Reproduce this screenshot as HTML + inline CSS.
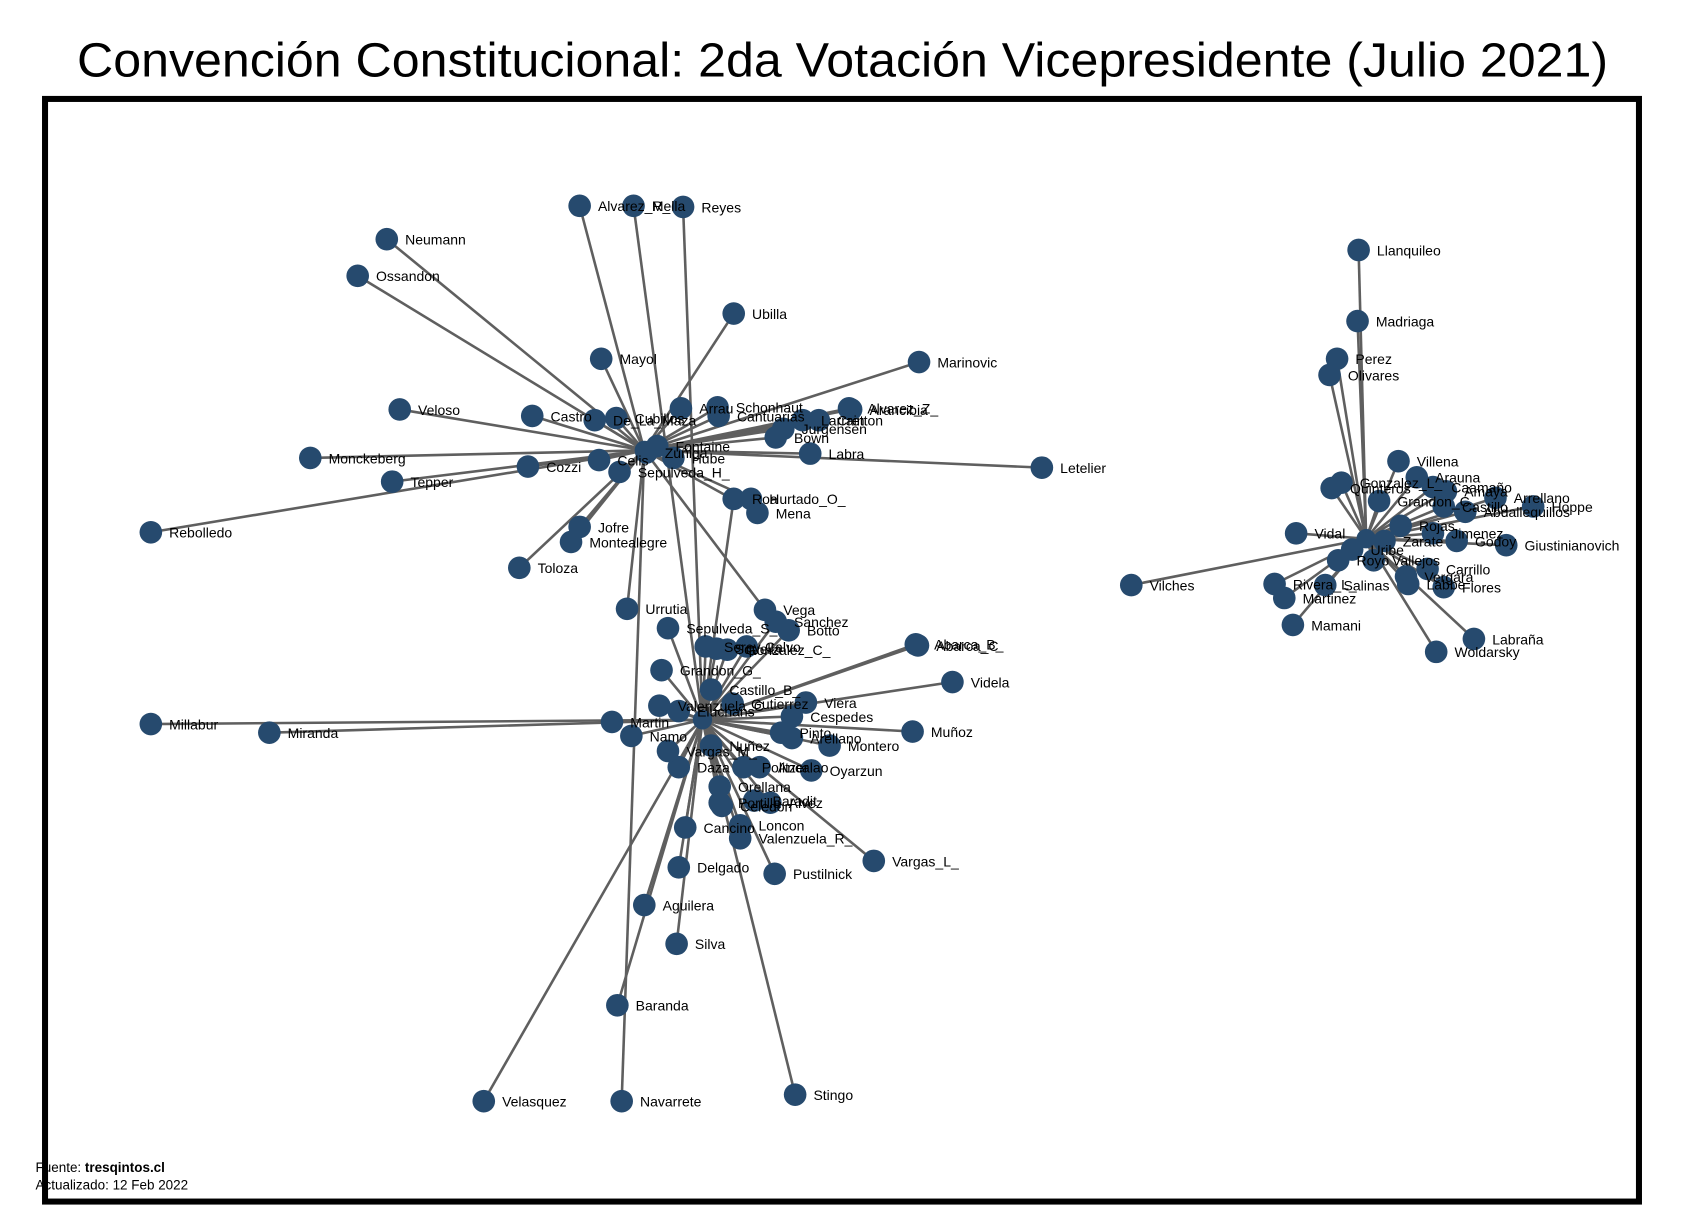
<!DOCTYPE html>
<html><head><meta charset="utf-8"><style>
html,body{margin:0;padding:0;background:#fff;}
svg{display:block;font-family:"Liberation Sans",sans-serif;}
</style></head><body>
<svg id="chart" width="1684" height="1224" viewBox="0 0 1563 1136" xmlns="http://www.w3.org/2000/svg">
<text x="782" y="71" font-size="44.5" text-anchor="middle" textLength="1421" lengthAdjust="spacingAndGlyphs">Convención Constitucional: 2da Votación Vicepresidente (Julio 2021)</text>
<rect x="41.8" y="91.8" width="1479.4" height="1023.4" fill="none" stroke="#000" stroke-width="5.6"/>
<g id="edges"></g>
<g id="nodes"></g>
<text x="33" y="1088" font-size="12.5">Fuente: <tspan font-weight="bold">tresqintos.cl</tspan></text>
<text x="33" y="1104" font-size="12.5">Actualizado: 12 Feb 2022</text>
</svg>
<script>
// node data: names, x-positions, y-positions (layout coordinates), hub each node links to
const names = ["HubTop","HubBot","HubRight",
"Alvarez_R_","Mella","Reyes","Neumann","Ossandon","Ubilla","Mayol","Marinovic","Veloso","Castro","De_La_Maza","Cubillos","Arrau","Schonhaut","Cantuarias","Larrain","Alvarez_Z_","Arancibia","Cretton","Bown","Jurgensen","Labra","Letelier","Monckeberg","Tepper","Cozzi","Celis","Sepulveda_H_","Fontaine","Zuñiga","Hube","Rebolledo","Jofre","Montealegre","Toloza","Roa","Hurtado_O_","Mena",
"Urrutia","Sepulveda_S_","Vega","Sanchez","Botto","Serey","Squella","Gonzalez_C_","Calvo","Abarca_B_","Abarca_C","Videla","Grandon_G_","Castillo_B_","Gutierrez","Valenzuela_C","Eluchans","Martin","Millabur","Miranda","Namo","Muñoz","Viera","Cespedes","Pinto","Arellano","Montero","Oyarzun","Politzer","Ancalao","Daza","Vargas_M_","Nuñez","Orellana","Portilla","Baradit","Celedon","Alvez","Loncon","Valenzuela_R_","Cancino","Vargas_L_","Pustilnick","Delgado","Aguilera","Silva","Baranda","Velasquez","Navarrete","Stingo",
"Llanquileo","Madriaga","Perez","Olivares","Villena","Arauna","Gonzalez_L_","Quinteros","Caamaño","Amaya","Arrellano","Hoppe","Grandon_C_","Castillo","Abdallequillos","Rojas","Vidal","Zarate","Jimenez","Godoy","Giustinianovich","Uribe","Royo","Vallejos","Carrillo","Vergara","Labbe","Flores","Salinas","Rivera_L_","Martinez","Vilches","Mamani","Labraña","Woldarsky"];
const xs = [598,652,1268,
538,588,634,359,332,681,558,853,371,494,552,572,632,666,667,745,788,790,760,720,727,752,967,288,364,490,556,575,610,600,625,140,538,530,482,681,697,703,
582,620,710,720,732,655,665,675,693,850,852,884,614,660,680,612,630,568,140,250,586,847,748,735,725,735,770,753,690,705,630,620,660,668,668,700,670,715,687,687,636,811,719,630,598,628,573,449,577,738,
1261,1260,1241,1234,1298,1315,1245,1236,1330,1342,1388,1423,1280,1340,1360,1300,1203,1285,1330,1352,1398,1255,1242,1275,1325,1305,1307,1340,1230,1183,1192,1050,1200,1368,1333];
const ys = [418,668,500,
191,191,192,222,256,291,333,336,380,386,390,388,379,378,386,390,379,380,390,406,398,421,434,425,447,433,427,438,414,420,425,494,489,503,527,463,463,476,
565,583,566,577,585,600,602,603,600,598,599,633,622,640,653,655,660,670,672,680,683,679,652,665,680,685,692,715,712,712,712,697,692,730,745,743,748,745,766,778,768,799,811,805,840,876,933,1022,1022,1016,
232,298,333,348,428,443,448,453,452,456,462,470,465,470,475,488,495,502,495,502,506,510,520,520,528,535,542,545,543,542,555,543,580,593,605];
const hubs = [-1,-1,-1,
0,1,1,0,0,0,0,0,0,0,0,0,0,0,0,0,0,0,0,0,0,0,0,0,0,0,0,0,0,0,0,0,0,0,0,1,0,0,
0,1,0,1,1,1,1,1,1,1,1,1,1,1,1,1,1,1,1,1,1,1,1,1,1,1,1,1,1,1,1,1,1,1,1,1,1,1,1,1,1,1,1,1,1,1,1,1,0,1,
2,2,2,2,2,2,2,2,2,2,2,2,2,2,2,2,2,2,2,2,2,2,2,2,2,2,2,2,2,2,2,2,2,2,2];
const hidden = [true,true,true];

const NS="http://www.w3.org/2000/svg";
const eg=document.getElementById('edges'), ng=document.getElementById('nodes');
function X(i){return xs[i];} function Y(i){return ys[i];}
for(let i=3;i<names.length;i++){
  const h=hubs[i];
  const l=document.createElementNS(NS,'line');
  
  
  l.setAttribute('x1',X(i));l.setAttribute('y1',Y(i));
  l.setAttribute('x2',X(h));l.setAttribute('y2',Y(h));
  l.setAttribute('stroke','#5f5f5f');l.setAttribute('stroke-width','2.4');
  eg.appendChild(l);
}
for(let i=0;i<names.length;i++){
  const c=document.createElementNS(NS,'circle');
  
  
  c.setAttribute('cx',X(i));c.setAttribute('cy',Y(i));c.setAttribute('r',i<3?9:10.5);
  c.setAttribute('fill','#264a6e');
  ng.appendChild(c);
}
for(let i=3;i<names.length;i++){
  const t=document.createElementNS(NS,'text');
  
  
  t.setAttribute('x',X(i)+17);t.setAttribute('y',Y(i)+5);
  t.setAttribute('font-size','13');
  t.textContent=names[i];
  ng.appendChild(t);
}
</script>
</body></html>
